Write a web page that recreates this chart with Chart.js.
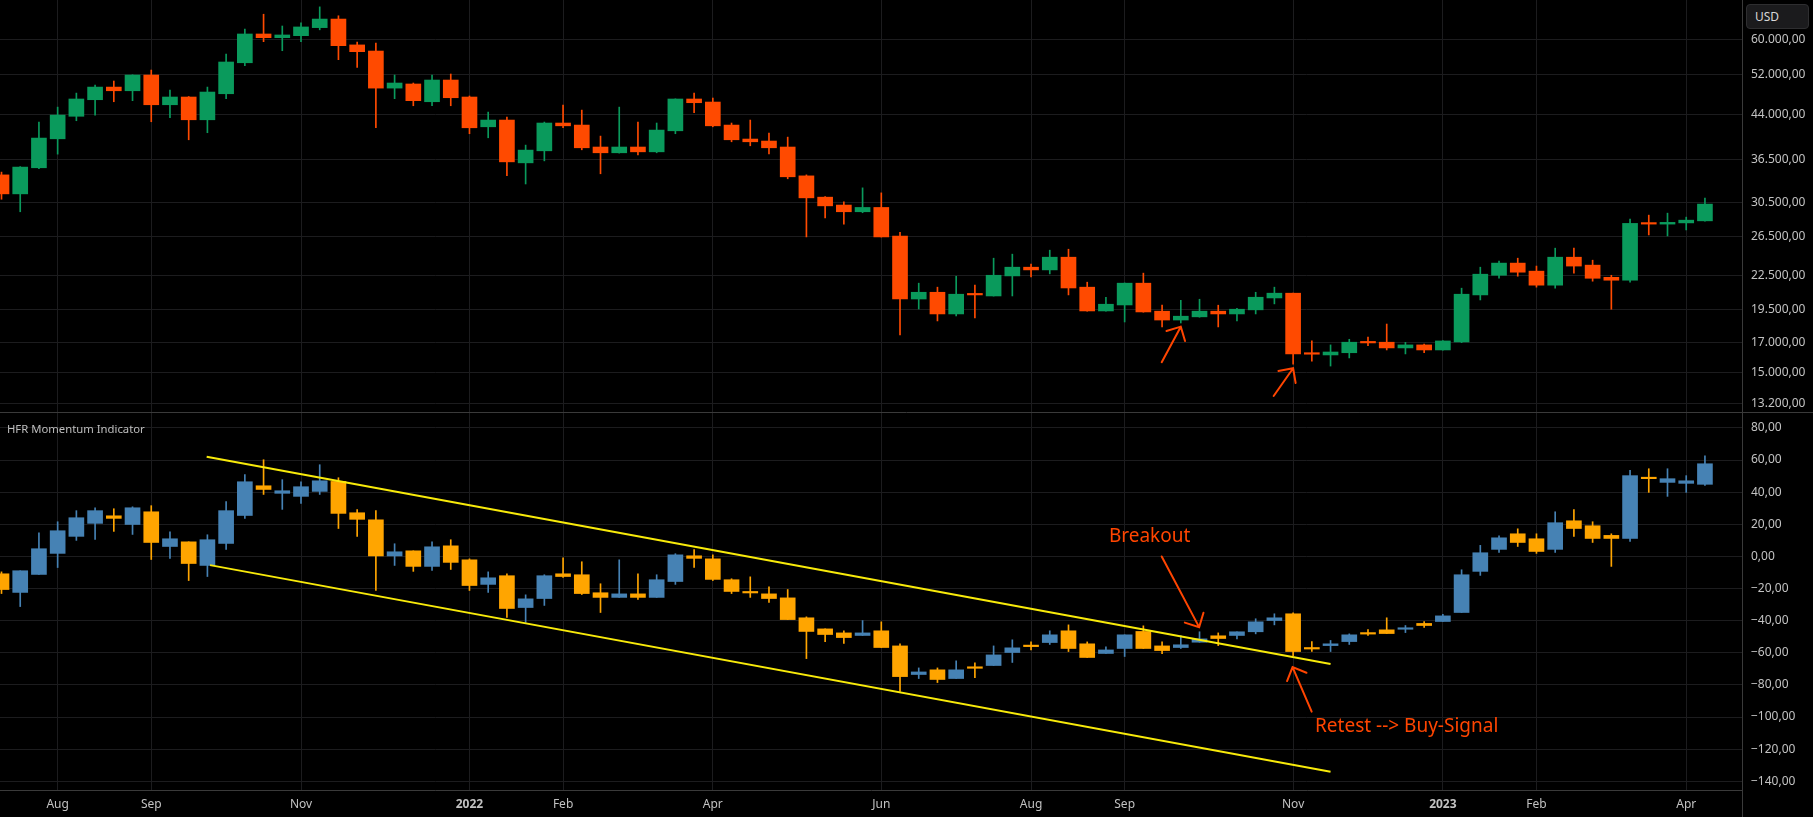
<!DOCTYPE html>
<html>
<head>
<meta charset="utf-8">
<title>BTC weekly / HFR Momentum Indicator</title>
<script src="https://cdn.jsdelivr.net/npm/chart.js@4.4.1/dist/chart.umd.min.js"></script>
<style>
  html, body { margin: 0; padding: 0; background: #000; }
  #page { position: relative; width: 1813px; height: 817px; overflow: hidden; background: #000; font-family: "Noto Sans", sans-serif; }
  canvas { position: absolute; left: 0; }
  #priceChart { top: 0; }
  #hfrChart { top: 413px; }
  #usd { position: absolute; left: 1746px; top: 4px; width: 63px; height: 25px; box-sizing: border-box; background: #1b1b1d; border: 1px solid #2e2e30; border-radius: 4px; color: #d8d8d8; font-size: 12px; line-height: 23px; padding-left: 8px; }
  #paneTitle { position: absolute; left: 7px; top: 421px; color: #bdbdbd; font-size: 11.3px; }
</style>
</head>
<body>
<div id="page">
  <canvas id="priceChart" width="1813" height="413"></canvas>
  <canvas id="hfrChart" width="1813" height="404"></canvas>
  <div id="usd">USD</div>
  <div id="paneTitle">HFR Momentum Indicator</div>
</div>
<script>
// weekly candles, index 0 = week of 12 Jul 2021, last = week of 10 Apr 2023
const priceOpen = [34200,31600,35230,39750,43660,46780,49310,48560,51850,45810,
  47310,43030,47960,54570,61520,60580,61090,63170,65470,58780,
  57300,49100,49950,46390,50780,47310,41790,42980,35960,37810,
  42450,42090,38410,37500,38410,37650,41100,46920,46330,42090,
  39710,39380,38410,34060,31170,30160,29330,29860,26490,20390,
  20970,19160,20800,20650,22450,23280,23020,24270,21420,19400,
  19890,21780,19380,18680,18930,19380,19160,19490,20480,20890,
  16220,16150,16300,17030,17030,16630,16840,16490,17050,20740,
  22510,23680,22900,21600,24270,23480,22320,22050,27940,27860,
  28000,28240];
const priceHigh = [34600,35400,42620,45360,48090,49720,50570,51900,52940,48700,
  47400,49310,56600,62820,66800,63600,64420,68880,66370,59500,
  59250,51850,50150,51850,52070,47510,44430,43520,38720,42620,
  45740,44800,40200,45360,42620,42450,46950,48095,47110,42450,
  42980,40720,40030,34200,31250,30560,32400,31730,26930,21780,
  21420,22420,21600,24170,24580,23580,24990,25090,21870,20540,
  21800,22710,19870,20280,20370,19870,19620,20970,21420,20900,
  17120,16840,17240,17390,18370,17020,16900,17150,21330,23280,
  23870,24170,23390,25200,25200,23970,22510,28440,28920,29160,
  28680,31050];
const priceLow = [30900,29330,35100,37290,42860,43880,46390,46590,42680,43400,
  39590,40770,46980,53910,59580,57380,59580,62600,55270,53520,
  41620,46980,45620,45620,45620,40600,39920,34080,32930,36260,
  41620,37970,34360,37450,37180,37500,40600,44300,41790,39260,
  38610,37340,33650,26410,28590,27860,29210,26400,17560,19560,
  18610,19000,18840,20640,20650,22350,22640,20740,19380,19380,
  18530,19300,18150,18450,18900,18150,18610,19160,19980,15540,
  15740,15420,15950,16780,16490,16220,16300,16480,17000,20310,
  22230,22420,21420,21330,22710,21960,19540,21870,26630,26520,
  27190,28200];
const priceClose = [31600,35330,39870,43880,46920,49310,48560,51850,45810,47310,
  43030,48300,54740,61520,60580,61270,63350,65470,58590,57150,
  49100,50150,46590,50780,47170,41620,42980,36110,37920,42450,
  41960,38290,37500,38410,37650,41220,46920,46200,41960,39590,
  39260,38290,33930,31080,30060,29330,29860,26410,20390,20970,
  19160,20800,20740,22510,23280,23020,24270,21350,19400,19950,
  21780,19320,18680,18980,19380,19160,19540,20540,20890,16220,
  16200,16350,17030,16980,16630,16840,16490,17120,20800,22610,
  23680,22800,21600,24270,23390,22230,22050,27940,27860,28060,
  28320,30280];

const hfrOpen = [-10.8,-22.4,-11.2,1.9,12.5,20.6,25.3,19.9,27.8,6.2,
  9.1,-5.6,8.1,25.5,44.0,39.3,37.4,40.5,46.7,27.2,
  22.8,0.0,3.5,-6.2,6.6,-2.1,-17.4,-12.0,-31.8,-26.2,
  -10.8,-11.4,-22.6,-25.5,-23.3,-25.5,-15.6,0.4,-1.5,-14.5,
  -21.8,-23.3,-25.8,-38.2,-45.1,-47.6,-49.2,-46.3,-55.7,-73.5,
  -70.6,-76.0,-68.7,-67.9,-59.8,-55.2,-53.6,-46.3,-54.4,-60.4,
  -57.3,-46.7,-55.7,-56.7,-53.4,-49.4,-49.2,-46.9,-39.9,-35.7,
  -56.7,-55.5,-53.0,-47.4,-45.7,-44.9,-41.7,-40.5,-34.9,-9.3,
  4.4,14.1,11.0,4.4,22.2,19.1,13.1,11.2,49.0,46.1,
  45.5,44.9];
const hfrHigh = [-9.6,-8.9,14.7,21.6,28.5,30.3,29.7,30.9,31.6,15.4,
  9.1,13.5,34.1,50.9,60.2,47.8,46.5,57.1,49.0,29.1,
  28.5,7.9,3.5,9.1,10.4,-1.5,-9.6,-10.8,-23.9,-11.4,
  -0.8,-3.3,-17.0,-2.1,-10.8,-11.4,1.7,4.2,1.0,-13.9,
  -12.7,-18.9,-20.6,-37.6,-45.1,-46.3,-39.9,-40.7,-54.4,-69.4,
  -69.4,-65.0,-66.3,-55.7,-51.9,-53.2,-46.3,-42.6,-53.2,-56.3,
  -48.8,-43.2,-53.2,-49.4,-46.9,-47.6,-46.9,-38.8,-35.7,-35.1,
  -53.0,-52.3,-48.2,-45.5,-38.2,-43.0,-40.5,-36.1,-8.3,6.9,
  12.9,17.2,14.1,27.8,29.1,21.6,14.1,53.6,54.6,54.6,
  50.3,62.7];
const hfrLow = [-23.1,-31.2,-11.2,-6.9,10.0,10.6,15.6,13.7,-1.9,-1.2,
  -15.0,-12.5,4.4,23.7,38.6,29.3,33.0,38.6,17.4,12.5,
  -21.2,-5.6,-9.3,-8.7,-8.1,-21.2,-22.4,-38.0,-41.1,-30.5,
  -13.1,-23.7,-34.9,-25.5,-26.8,-25.5,-17.4,-6.9,-15.0,-23.1,
  -25.5,-28.7,-39.3,-63.6,-53.0,-54.2,-49.2,-56.7,-84.1,-76.0,
  -78.5,-76.0,-75.4,-67.9,-66.0,-58.2,-54.8,-59.2,-62.9,-60.4,
  -62.3,-57.3,-60.6,-57.3,-53.4,-55.5,-51.3,-48.2,-42.6,-61.7,
  -59.2,-59.2,-54.8,-49.2,-48.0,-47.4,-44.2,-40.5,-34.9,-11.8,
  2.5,6.2,1.9,2.5,12.5,8.7,-6.2,9.3,39.9,37.4,
  39.9,44.2];
const hfrClose = [-20.6,-8.9,4.8,16.0,24.1,28.5,23.7,30.3,8.7,11.0,
  -4.4,10.4,28.5,46.5,41.7,40.9,43.4,47.1,26.8,23.1,
  0.0,2.9,-6.2,6.0,-3.7,-18.1,-13.3,-32.4,-26.4,-12.0,
  -12.5,-23.1,-25.5,-23.3,-25.5,-14.5,1.0,-1.2,-14.3,-21.8,
  -22.4,-26.2,-39.3,-46.7,-48.6,-50.5,-47.6,-56.7,-74.8,-71.9,
  -76.6,-70.6,-69.2,-61.3,-56.9,-56.1,-48.8,-57.3,-62.9,-58.2,
  -48.8,-57.3,-58.6,-55.0,-51.3,-51.1,-46.9,-40.7,-38.2,-59.2,
  -57.1,-54.4,-48.8,-48.2,-48.0,-44.4,-43.0,-37.0,-11.4,2.3,
  11.6,8.7,3.1,21.0,17.4,11.2,11.2,50.3,48.4,48.4,
  47.1,57.7];

// axis ticks
const monthTicks = [3, 8, 16, 25, 30, 38, 47, 55, 60, 69, 77, 82, 90];
const monthLabels = ['Aug', 'Sep', 'Nov', '2022', 'Feb', 'Apr', 'Jun', 'Aug', 'Sep', 'Nov', '2023', 'Feb', 'Apr'];
const priceTicks = [60000, 52000, 44000, 36500, 30500, 26500, 22500, 19500, 17000, 15000, 13200];
const hfrTicks = [80, 60, 40, 20, 0, -20, -40, -60, -80, -100, -120, -140];

// hand drawings, as [week index, value]
const channelUpper = [[10.96, 62.1], [71.0, -66.9]];
const channelLower = [[11.14, -5.4], [71.0, -134.0]];
const priceArrows = [[[61.98, 15670], [63.0, 18170]], [[67.96, 13610], [69.0, 15280]]];
const hfrArrows = [[[61.98, 0], [63.98, -44.0]], [[69.99, -96.6], [68.97, -68.9]]];
const hfrNotes = [['Breakout', 59.16, 12.3], ['Retest --> Buy-Signal', 70.17, -106.1]];

const GREEN = '#0a9a5c', RED = '#ff4a00', BLUE = '#4682b4', ORANGE = '#ffa500';
const MARK = '#ff4500', YELLOW = '#f8ea0a';
const GRID = '#1c1c1e', SEP = '#3a3a3a', TXT = '#c2c2c2';
const FONT = 'Noto Sans';

function fmtNum(v) {
  const s = Math.abs(v).toFixed(2).split('.');
  const whole = s[0].replace(/\B(?=(\d{3})+(?!\d))/g, '.');
  return (v < 0 ? '\u2212' : '') + whole + ',' + s[1];
}

function candleSets(o, h, l, c, up, down) {
  const col = (ctx) => (c[ctx.dataIndex] >= o[ctx.dataIndex] ? up : down);
  return [
    { data: o.map((v, i) => ({ x: i, y: [v, c[i]] })), backgroundColor: col,
      barThickness: 15, minBarLength: 1.5, grouped: false, order: 0 },
    { data: l.map((v, i) => ({ x: i, y: [v, h[i]] })), backgroundColor: col,
      barThickness: 1, grouped: false, order: 1 },
  ];
}

function xAxis(showLabels) {
  return {
    type: 'linear', min: -0.08, max: 92.98, offset: false,
    afterBuildTicks: (s) => { s.ticks = monthTicks.map((v) => ({ value: v })); },
    afterFit: (s) => { s.height = showLabels ? 27 : 0; s.paddingLeft = 0; s.paddingRight = 0; },
    grid: { color: GRID, drawTicks: false, offset: false },
    border: { display: showLabels, color: SEP },
    ticks: {
      display: showLabels, padding: 7, autoSkip: false, maxRotation: 0,
      color: TXT,
      font: (ctx) => ({ family: FONT, size: 12,
        weight: ctx.tick && /^\d/.test(monthLabels[monthTicks.indexOf(ctx.tick.value)]) ? 'bold' : 'normal' }),
      callback: (v) => monthLabels[monthTicks.indexOf(v)],
    },
  };
}

function yAxis(extra, ticks) {
  return Object.assign({
    position: 'right',
    afterBuildTicks: (s) => { s.ticks = ticks.map((v) => ({ value: v })); },
    afterFit: (s) => { s.width = 71; s.paddingTop = 0; s.paddingBottom = 0; },
    grid: { color: GRID, drawTicks: false },
    border: { color: SEP },
    ticks: { padding: 9, color: TXT, font: { family: FONT, size: 12 }, callback: (v) => fmtNum(v) },
  }, extra);
}

function arrow(ctx, x1, y1, x2, y2) {
  const a = Math.atan2(y1 - y2, x1 - x2), len = 15, spread = 0.78;
  ctx.beginPath();
  ctx.moveTo(x1, y1);
  ctx.lineTo(x2, y2);
  ctx.moveTo(x2 + len * Math.cos(a - spread), y2 + len * Math.sin(a - spread));
  ctx.lineTo(x2, y2);
  ctx.lineTo(x2 + len * Math.cos(a + spread), y2 + len * Math.sin(a + spread));
  ctx.stroke();
}

const common = {
  responsive: false,
  animation: false,
  events: [],
  layout: { padding: 0 },
  plugins: { legend: { display: false }, tooltip: { enabled: false } },
};

const priceDrawings = {
  id: 'priceDrawings',
  afterDatasetsDraw(chart) {
    const { ctx, scales: { x, y } } = chart;
    ctx.save();
    ctx.strokeStyle = MARK;
    ctx.lineWidth = 2;
    ctx.lineCap = 'round';
    priceArrows.forEach(([a, b]) => arrow(ctx, x.getPixelForValue(a[0]), y.getPixelForValue(a[1]),
      x.getPixelForValue(b[0]), y.getPixelForValue(b[1])));
    ctx.strokeStyle = SEP;
    ctx.lineWidth = 1;
    ctx.beginPath();
    ctx.moveTo(0, chart.height - 0.5);
    ctx.lineTo(chart.width, chart.height - 0.5);
    ctx.stroke();
    ctx.restore();
  },
};

const hfrDrawings = {
  id: 'hfrDrawings',
  afterDatasetsDraw(chart) {
    const { ctx, scales: { x, y } } = chart;
    const px = (p) => [x.getPixelForValue(p[0]), y.getPixelForValue(p[1])];
    ctx.save();
    ctx.strokeStyle = YELLOW;
    ctx.lineWidth = 2;
    [channelUpper, channelLower].forEach((ln) => {
      const a = px(ln[0]), b = px(ln[1]);
      ctx.beginPath();
      ctx.moveTo(a[0], a[1]);
      ctx.lineTo(b[0], b[1]);
      ctx.stroke();
    });
    ctx.strokeStyle = MARK;
    ctx.lineCap = 'round';
    hfrArrows.forEach(([a, b]) => {
      const p = px(a), q = px(b);
      arrow(ctx, p[0], p[1], q[0], q[1]);
    });
    ctx.fillStyle = MARK;
    ctx.font = '19px "' + FONT + '"';
    ctx.textAlign = 'left';
    ctx.textBaseline = 'middle';
    hfrNotes.forEach(([t, i, v]) => ctx.fillText(t, x.getPixelForValue(i), y.getPixelForValue(v)));
    // axis corner line below the price scale
    ctx.strokeStyle = SEP;
    ctx.lineWidth = 1;
    ctx.beginPath();
    ctx.moveTo(chart.chartArea.right + 0.5, chart.chartArea.bottom);
    ctx.lineTo(chart.chartArea.right + 0.5, chart.height);
    ctx.stroke();
    ctx.restore();
  },
};

new Chart(document.getElementById('priceChart'), {
  type: 'bar',
  data: { datasets: candleSets(priceOpen, priceHigh, priceLow, priceClose, GREEN, RED) },
  options: Object.assign({}, common, {
    scales: {
      x: xAxis(false),
      y: yAxis({ type: 'logarithmic', min: 12680, max: 70880 }, priceTicks),
    },
  }),
  plugins: [priceDrawings],
});

new Chart(document.getElementById('hfrChart'), {
  type: 'bar',
  data: { datasets: candleSets(hfrOpen, hfrHigh, hfrLow, hfrClose, BLUE, ORANGE) },
  options: Object.assign({}, common, {
    scales: {
      x: xAxis(true),
      y: yAxis({ type: 'linear', min: -145.4, max: 89.3 }, hfrTicks),
    },
  }),
  plugins: [hfrDrawings],
});
</script>
</body>
</html>
